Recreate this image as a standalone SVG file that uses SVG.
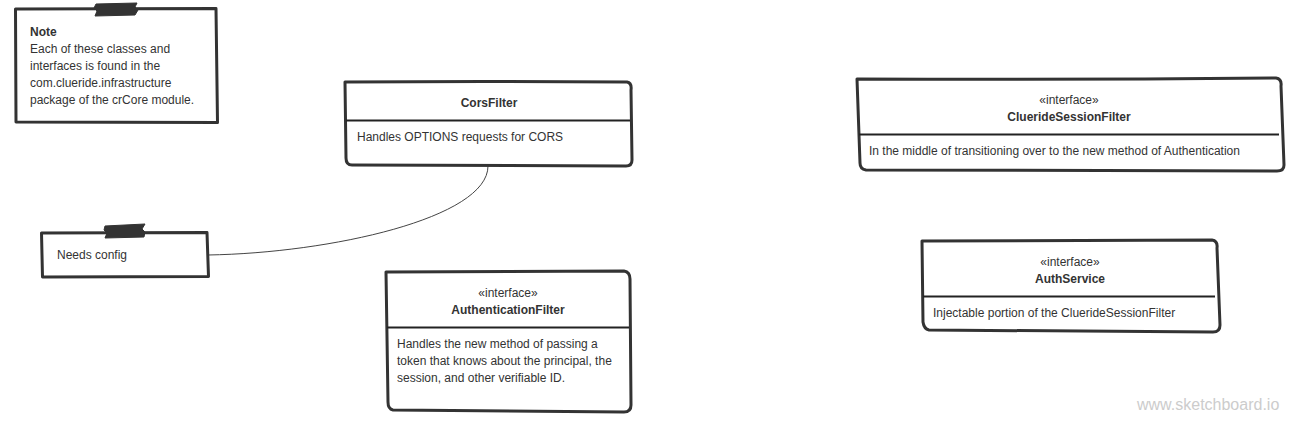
<svg xmlns="http://www.w3.org/2000/svg" width="1296" height="425" viewBox="0 0 1296 425">
<style>
.box{fill:#fff;stroke:#333;stroke-width:3;stroke-linejoin:round;stroke-linecap:round}
.div{fill:none;stroke:#222;stroke-width:2}
.tape{fill:#333;stroke:#333;stroke-width:1}
.t{font-family:"Liberation Sans",Arial,sans-serif;font-size:12px;fill:#333}
.b{font-weight:bold}
.c{text-anchor:middle}
.conn{fill:none;stroke:#444;stroke-width:1}
</style>
<rect width="1296" height="425" fill="#fff"/>
<g id="connectors">
<path class="conn" d="M208,255 C330,253 488,218 488,166"/>
</g>
<g id="note">
<path class="box" d="M15.5,9 L216,8.5 L217.5,122.5 L16,122 Z"/>
<path class="tape" d="M96,4 L137,3 L135,7 L138,10 L135,15 L95,16 L97,11 L94,8 Z"/>
<text class="t b" x="30" y="36">Note</text>
<text class="t" x="30" y="53">Each of these classes and</text>
<text class="t" x="30" y="70">interfaces is found in the</text>
<text class="t" x="30" y="87">com.clueride.infrastructure</text>
<text class="t" x="30" y="104">package of the crCore module.</text>
</g>
<g id="needs-config">
<path class="box" d="M41.5,233 L207,232.5 L208.5,276.5 L42.5,277 Z"/>
<path class="tape" d="M105,226 L145,224 L142,229 L145,232 L144,237 L105,238 L107,233 L104,230 Z"/>
<text class="t" x="57" y="259">Needs config</text>
</g>
<g id="cors-filter">
<path class="box" d="M345,82 Q480,81 627,82 Q632,83 631,90 L632,160 Q632,166 626,166 L352,165 Q346,165 346,158 Z"/>
<line class="div" x1="346" y1="120.5" x2="630" y2="120.5"/>
<text class="t b c" x="489" y="107">CorsFilter</text>
<text class="t" x="357" y="141">Handles OPTIONS requests for CORS</text>
</g>
<g id="authentication-filter">
<path class="box" d="M386,272 Q500,271 624,271 Q630,272 630,279 L631,405 Q631,412 624,412 L393,410 Q388,409 388,402 Z"/>
<line class="div" x1="387" y1="327.5" x2="629" y2="327.5"/>
<text class="t c" x="508" y="297">«interface»</text>
<text class="t b c" x="508" y="314">AuthenticationFilter</text>
<text class="t" x="397" y="348">Handles the new method of passing a</text>
<text class="t" x="397" y="365">token that knows about the principal, the</text>
<text class="t" x="397" y="382">session, and other verifiable ID.</text>
</g>
<g id="clueride-session-filter">
<path class="box" d="M857,79 Q1070,80 1276,78 Q1282,79 1281,86 L1284,165 Q1284,171 1277,171 L866,170 Q860,169 860,163 Z"/>
<line class="div" x1="859" y1="134.5" x2="1279" y2="134.5"/>
<text class="t c" x="1069" y="104">«interface»</text>
<text class="t b c" x="1069" y="121">Clue&#114;&#105;&#100;eSessionFilter</text>
<text class="t" x="869" y="155">In the middle of transitioning over to the new method of Authentication</text>
</g>
<g id="auth-service">
<path class="box" d="M922,241 Q1070,240 1212,240 Q1218,241 1217,248 L1220,325 Q1220,332 1213,332 L929,330 Q924,329 923,322 Z"/>
<line class="div" x1="923" y1="296.5" x2="1215" y2="296.5"/>
<text class="t c" x="1070" y="266">«interface»</text>
<text class="t b c" x="1070" y="283">AuthService</text>
<text class="t" x="933" y="317">Injectable portion of the Clue&#114;&#105;&#100;eSessionFilter</text>
</g>
<text x="1137" y="410" style="font-family:'Liberation Sans',Arial,sans-serif;font-size:16px;fill:#ccc">www.sketchboard.io</text>
</svg>
